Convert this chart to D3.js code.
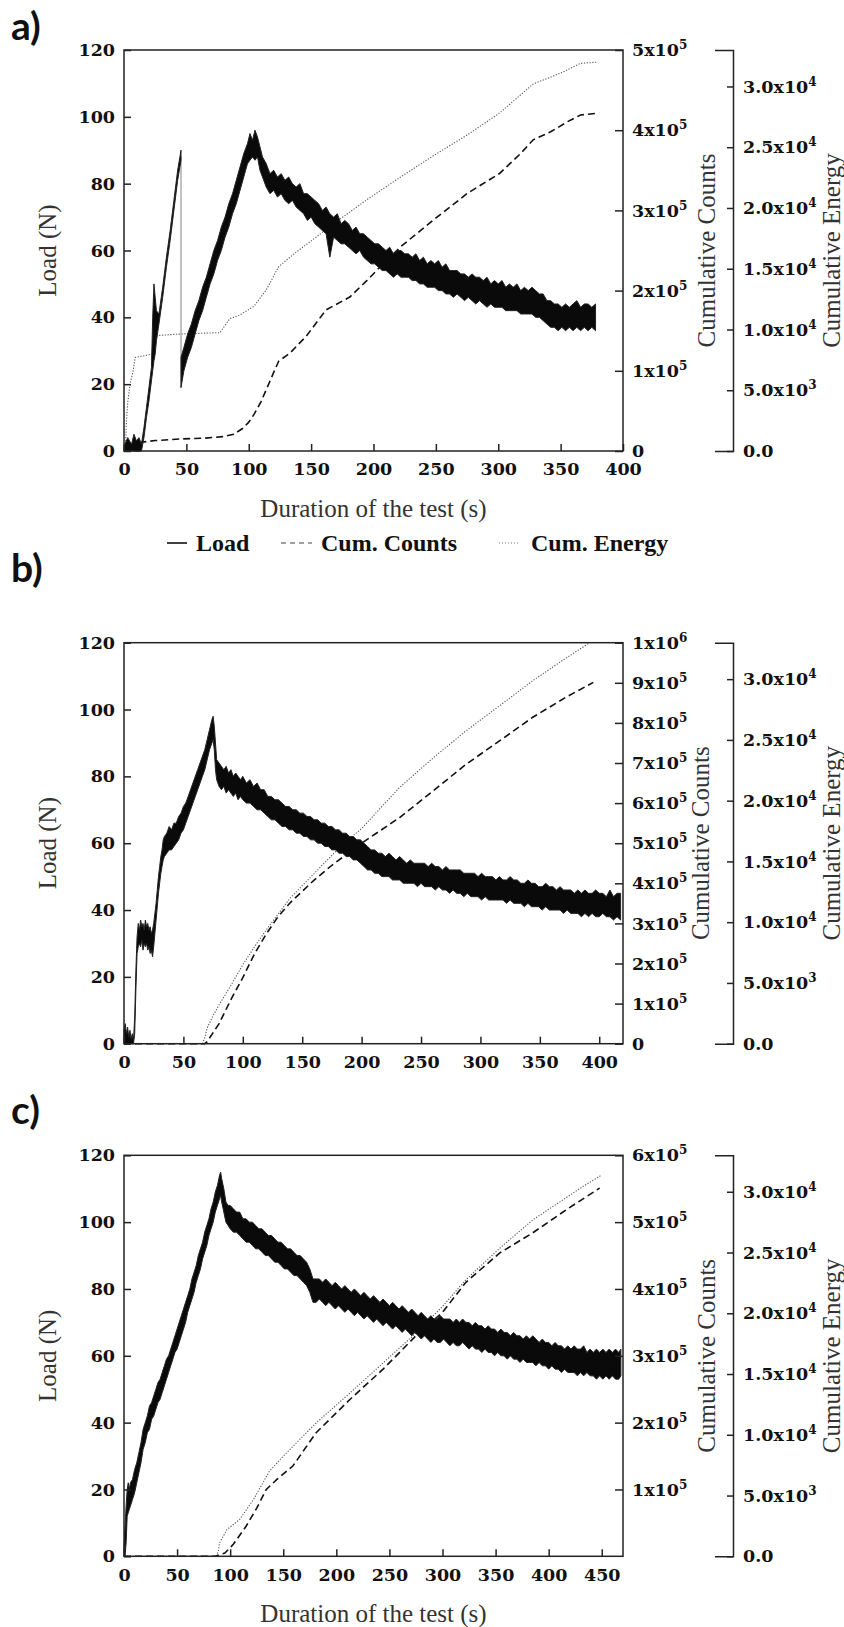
<!DOCTYPE html>
<html>
<head>
<meta charset="utf-8">
<script src="https://cdn.jsdelivr.net/npm/d3@7"></script>
<style>
  body { margin: 0; background: #fff; }
  .tick text { font-family: "DejaVu Serif", serif; font-weight: bold; font-size: 17.5px; fill: #111; }
  .tick line { stroke: #222; stroke-width: 1.5; }
  .axis-title { font-family: "Liberation Serif", serif; font-size: 25px; fill: #333; }
  .panel-tag { font-family: Lato, sans-serif; font-weight: bold; font-size: 39px; fill: #111; }
  .legend text { font-family: "Liberation Serif", serif; font-weight: bold; font-size: 24px; fill: #111; }
</style>
</head>
<body>
<div id="chart"></div>
<script>
// tick values
const loadTicks = [0, 20, 40, 60, 80, 100, 120];
const energyTicks = [0, 5000, 10000, 15000, 20000, 25000, 30000];
const xTicksA = [0, 50, 100, 150, 200, 250, 300, 350, 400];
const xTicksB = [0, 50, 100, 150, 200, 250, 300, 350, 400];
const xTicksC = [0, 50, 100, 150, 200, 250, 300, 350, 400, 450];
const countTicksA = [0, 1e5, 2e5, 3e5, 4e5, 5e5];
const countTicksB = [0, 1e5, 2e5, 3e5, 4e5, 5e5, 6e5, 7e5, 8e5, 9e5, 1e6];
const countTicksC = [1e5, 2e5, 3e5, 4e5, 5e5, 6e5];
const legendNames = ["Load", "Cum. Counts", "Cum. Energy"];

// load records: [time (s), lower edge (N), upper edge (N)] of the noisy trace
const loadA1 = [[0,0,1.5],[3,0,4],[6,0,2],[8,0,5],[10,0,3],[12,0,4],[14,0,2],[16,4,7],[18,10,13],[20,15,19],[22,21,25],[23,24,40],[24,27,50],[25,29,46],[26,33,42],[28,38,41],[31,46,49],[34,55,58],[37,63,66],[40,72,75],[43,81,84],[45.7,87,90]];
const loadA2 = [[45.7,19,28],[48,24,31],[51,28,35],[54,31,38],[57,35,42],[60,39,45],[63,42,49],[66,46,52],[69,50,56],[72,53,60],[75,57,63],[78,60,67],[81,64,70],[84,67,74],[87,71,77],[90,74,81],[93,78,85],[96,82,89],[99,86,92],[101,87,95],[103,88,93],[105,87,96],[107,88,94],[109,84,91],[111,82,88],[114,79,86],[117,77,83],[120,78,84],[123,76,82],[126,77,83],[129,75,81],[132,74,82],[135,75,80],[138,73,79],[141,72,80],[144,71,77],[147,69,77],[150,70,76],[153,68,75],[156,67,74],[159,66,72],[162,65,73],[165,58,71],[168,64,70],[171,63,71],[174,62,68],[177,62,69],[180,61,68],[183,60,66],[186,59,67],[189,60,65],[192,58,65],[195,57,64],[198,56,63],[201,56,62],[204,55,62],[207,54,61],[210,54,60],[213,53,61],[216,52,59],[219,53,60],[222,52,60],[225,52,59],[228,52,59],[231,51,58],[234,51,59],[237,50,57],[240,50,58],[243,49,56],[246,49,57],[249,49,56],[252,48,57],[255,48,55],[258,47,56],[261,47,54],[264,46,54],[267,47,54],[270,46,53],[273,45,53],[276,46,52],[279,45,53],[282,44,52],[285,45,52],[288,44,51],[291,43,52],[294,44,50],[297,43,51],[300,43,50],[303,43,51],[306,42,49],[309,42,50],[312,42,49],[315,42,50],[318,41,48],[321,41,49],[324,41,48],[327,41,49],[330,40,48],[333,40,47],[336,39,47],[339,38,45],[342,37,45],[345,37,44],[348,36,44],[351,37,43],[354,36,44],[357,37,43],[360,36,44],[363,37,45],[366,36,43],[369,37,44],[372,36,44],[375,37,43],[378,36,44]];
const dropA = [[45.7, 88], [45.7, 19]];
const countsA = [[0,0],[12,0],[14,11000],[25,13000],[45,15000],[65,16000],[80,18000],[88,21000],[95,28000],[100,36000],[104,45000],[110,62000],[115,80000],[120,98000],[124,112000],[133,122000],[146,143000],[162,176000],[181,192000],[195,213000],[208,234000],[222,255000],[248,288000],[275,321000],[301,346000],[318,371000],[328,388000],[342,398000],[356,411000],[366,419000],[379,421000]];
const energyA = [[0,0],[1,0],[2,2500],[3,4000],[5,5600],[7,6400],[9,7700],[17,7850],[23,8000],[25,9300],[27,9500],[45,9630],[77,9740],[80,10200],[85,10900],[93,11200],[104,11900],[114,13250],[124,15170],[136,16200],[154,17600],[168,18700],[195,20700],[221,22500],[248,24300],[275,26000],[301,27800],[320,29500],[328,30200],[350,31100],[366,31900],[379,32000]];

const loadB = [[0,0,4],[1,0,6],[2,0,3],[3,0,5],[4,0,2],[5,0,4],[6,0,1.5],[7,0,3],[8,0,1],[9,3,8],[10,16,22],[11,27,32],[12,29,36],[13,30,34],[14,29,37],[15,31,35],[16,28,36],[17,30,34],[18,29,37],[19,30,35],[20,28,36],[21,29,34],[22,27,35],[23,28,33],[24,26,34],[25,29,36],[26,33,39],[27,37,42],[28,41,46],[29,45,50],[30,48,53],[31,51,56],[32,53,58],[33,55,61],[34,56,62],[36,57,63],[38,58,65],[40,58,64],[42,59,66],[44,60,66],[46,61,68],[48,63,69],[50,64,71],[52,66,72],[54,68,74],[56,70,76],[58,72,78],[60,74,80],[62,76,82],[64,78,84],[66,80,86],[68,82,88],[70,85,91],[72,88,94],[74,90,97],[75,91,98],[76,88,95],[77,82,90],[78,79,85],[80,77,84],[82,76,83],[84,77,82],[86,75,83],[88,76,81],[90,75,82],[92,74,80],[94,75,81],[96,73,80],[98,74,79],[100,73,80],[103,72,78],[106,72,79],[109,71,77],[112,70,78],[115,70,76],[118,69,76],[121,68,74],[124,67,74],[127,67,73],[130,66,73],[133,65,72],[136,65,71],[139,64,71],[142,64,70],[145,63,70],[148,63,69],[151,62,69],[154,62,68],[157,61,68],[160,61,67],[163,60,67],[166,60,66],[169,59,66],[172,59,65],[175,58,65],[178,58,64],[181,57,64],[184,57,63],[187,56,63],[190,56,62],[193,55,62],[196,55,61],[199,54,61],[202,53,60],[205,52,59],[208,52,58],[211,51,58],[214,51,57],[217,50,57],[220,50,56],[223,50,57],[226,49,56],[229,49,55],[232,49,56],[235,48,55],[238,48,54],[241,48,55],[244,48,54],[247,47,54],[250,48,54],[253,47,54],[256,47,53],[259,47,54],[262,46,53],[265,47,53],[268,46,52],[271,46,53],[274,45,52],[277,46,52],[280,45,52],[283,45,52],[286,44,51],[289,45,51],[292,44,51],[295,44,51],[298,44,50],[301,43,51],[304,44,50],[307,43,50],[310,43,50],[313,43,49],[316,43,50],[319,43,49],[322,42,49],[325,43,50],[328,42,49],[331,42,49],[334,42,48],[337,41,48],[340,42,49],[343,41,48],[346,41,48],[349,41,47],[352,40,47],[355,41,48],[358,40,47],[361,40,47],[364,40,46],[367,40,47],[370,39,46],[373,40,46],[376,39,46],[379,39,45],[382,39,46],[385,38,45],[388,39,46],[391,38,45],[394,39,45],[397,38,46],[400,38,45],[403,39,45],[406,38,44],[409,38,46],[412,37,44],[415,38,45],[418,37,45]];
const countsB = [[0,0],[68,0],[70,5000],[80,50000],[90,110000],[100,165000],[110,225000],[120,275000],[130,318000],[140,352000],[150,380000],[160,408000],[175,445000],[190,478000],[200,500000],[215,530000],[232,564000],[260,630000],[288,697000],[316,755000],[344,814000],[372,864000],[395,901000]];
const energyB = [[0,0],[66,0],[68,500],[70,1300],[75,2300],[80,3200],[90,4800],[100,6500],[110,8000],[120,9400],[130,10700],[140,12000],[150,13000],[160,14000],[170,15000],[180,16000],[190,16900],[200,17700],[215,19300],[232,21090],[260,23500],[288,25760],[316,27800],[344,29870],[370,31600],[392,33000]];

const loadC = [[0,0,2],[1,0,9],[2,4,15],[3,12,20],[4,13,22],[5,14,20],[6,15,22],[8,17,23],[10,19,26],[12,22,28],[14,25,31],[16,28,34],[18,32,38],[20,34,40],[22,37,42],[24,38,45],[26,41,46],[28,42,48],[30,44,50],[32,46,52],[34,47,53],[36,49,55],[38,51,57],[40,53,59],[42,55,60],[44,57,62],[46,59,64],[48,61,66],[50,62,68],[52,64,70],[54,66,72],[56,68,74],[58,70,76],[60,73,78],[62,75,80],[64,77,83],[66,79,85],[68,82,87],[70,84,90],[72,86,92],[74,89,94],[76,91,97],[78,93,99],[80,96,101],[82,98,104],[84,100,106],[86,103,109],[88,105,111],[90,107,114],[91,108,115],[92,106,113],[94,103,110],[96,100,106],[98,99,105],[100,98,105],[103,97,104],[106,97,103],[109,96,103],[112,95,101],[115,94,101],[118,94,100],[121,93,100],[124,92,99],[127,92,98],[130,91,98],[133,90,97],[136,90,96],[139,89,96],[142,88,95],[145,88,94],[148,87,94],[151,86,93],[154,86,92],[157,85,92],[160,84,91],[163,84,90],[166,83,90],[169,82,89],[172,81,88],[175,79,86],[178,76,83],[181,76,83],[184,77,83],[187,76,82],[190,75,83],[193,76,82],[196,75,81],[199,74,82],[202,75,81],[205,74,80],[208,73,81],[211,74,80],[214,73,79],[217,72,80],[220,73,79],[223,72,78],[226,71,79],[229,72,78],[232,71,77],[235,70,78],[238,71,77],[241,70,76],[244,69,77],[247,70,76],[250,69,75],[253,68,76],[256,69,75],[259,68,74],[262,67,75],[265,68,74],[268,67,73],[271,66,74],[274,67,73],[277,66,72],[280,65,73],[283,66,72],[286,65,71],[289,64,72],[292,65,71],[295,64,71],[298,64,72],[301,65,71],[304,64,71],[307,63,71],[310,64,70],[313,63,71],[316,63,70],[319,64,71],[322,63,70],[325,62,70],[328,63,69],[331,62,70],[334,62,69],[337,61,69],[340,62,68],[343,61,69],[346,61,68],[349,60,68],[352,61,67],[355,60,68],[358,60,67],[361,59,67],[364,60,66],[367,59,67],[370,59,66],[373,58,66],[376,59,65],[379,58,66],[382,58,65],[385,58,66],[388,57,65],[391,58,64],[394,57,65],[397,57,64],[400,56,64],[403,57,63],[406,56,64],[409,56,63],[412,55,63],[415,56,62],[418,55,63],[421,55,62],[424,55,63],[427,54,62],[430,55,62],[433,54,63],[436,55,61],[439,54,62],[442,54,61],[445,53,62],[448,54,61],[451,53,62],[454,54,61],[457,53,62],[460,54,61],[463,53,62],[466,53,61],[468,54,62]];
const countsC = [[0,0],[86,0],[95,5000],[103,18000],[115,45000],[125,72000],[134,100000],[144,115000],[159,135000],[181,185000],[213,235000],[244,280000],[275,330000],[300,365000],[322,410000],[354,454000],[385,484000],[417,519000],[448,551000]];
const energyC = [[0,0],[87,0],[89,500],[90,1100],[97,2200],[109,3040],[122,4680],[137,7010],[150,8240],[181,10980],[213,13450],[244,15910],[275,18380],[300,20560],[322,22760],[354,25360],[385,27680],[432,30420],[450,31380]];

// layout
const plotL = 124, plotR = 623, plotH = 401, energyX = 733, energyMax = 33000;

const svg = d3.select("#chart")
  .append("svg")
    .attr("width", 844)
    .attr("height", 1627);

const panels = [
  {tag: "a)", tagY: 40, top: 50, xMax: 400, xTicks: xTicksA, cMax: 5e5, cTicks: countTicksA,
   loads: [loadA1, loadA2], drop: dropA, counts: countsA, energy: energyA, xTitle: true, cTitleX: 715},
  {tag: "b)", tagY: 582, top: 642.7, xMax: 420, xTicks: xTicksB, cMax: 1e6, cTicks: countTicksB,
   loads: [loadB], drop: null, counts: countsB, energy: energyB, xTitle: false, cTitleX: 709},
  {tag: "c)", tagY: 1124, top: 1155.3, xMax: 470, xTicks: xTicksC, cMax: 6e5, cTicks: countTicksC,
   loads: [loadC], drop: null, counts: countsC, energy: energyC, xTitle: true, cTitleX: 715}
];

// turn a tick value into "Nx10" + superscript exponent
function sciText(sel, decimals, zeroText) {
  sel.each(function(d) {
    const t = d3.select(this).text(null);
    if (d === 0) { t.text(zeroText); return; }
    const e = Math.floor(Math.log10(d) + 1e-9);
    const m = d / Math.pow(10, e);
    t.append("tspan").text((decimals ? m.toFixed(decimals) : m) + "x10");
    t.append("tspan").attr("dy", -7).style("font-size", "12px").text(e);
  });
}

panels.forEach(p => {
  const g = svg.append("g");
  const bottom = p.top + plotH;
  const midY = p.top + plotH / 2;

  const x = d3.scaleLinear().domain([0, p.xMax]).range([plotL, plotR]);
  const yLoad = d3.scaleLinear().domain([0, 120]).range([bottom, p.top]);
  const yCount = d3.scaleLinear().domain([0, p.cMax]).range([bottom, p.top]);
  const yEnergy = d3.scaleLinear().domain([0, energyMax]).range([bottom, p.top]);

  // cumulative energy (dotted)
  g.append("path")
    .datum(p.energy)
    .attr("fill", "none")
    .attr("stroke", "#555")
    .attr("stroke-width", 1.1)
    .attr("stroke-dasharray", "1.2,1.6")
    .attr("d", d3.line().x(d => x(d[0])).y(d => yEnergy(d[1])));

  // cumulative counts (dashed)
  g.append("path")
    .datum(p.counts)
    .attr("fill", "none")
    .attr("stroke", "#111")
    .attr("stroke-width", 1.6)
    .attr("stroke-dasharray", "7,4")
    .attr("d", d3.line().x(d => x(d[0])).y(d => yCount(d[1])));

  // load trace
  if (p.drop) {
    g.append("path")
      .datum(p.drop)
      .attr("fill", "none")
      .attr("stroke", "#999")
      .attr("stroke-width", 1.2)
      .attr("d", d3.line().x(d => x(d[0])).y(d => yLoad(d[1])));
  }
  p.loads.forEach(seg => {
    g.append("path")
      .datum(seg)
      .attr("fill", "#0a0a0a")
      .attr("stroke", "#222")
      .attr("stroke-width", 1)
      .attr("stroke-linejoin", "round")
      .attr("d", d3.area().x(d => x(d[0])).y0(d => yLoad(d[1])).y1(d => yLoad(d[2])));
  });

  // frame
  g.append("rect")
    .attr("x", plotL).attr("y", p.top)
    .attr("width", plotR - plotL).attr("height", plotH)
    .attr("fill", "none")
    .attr("stroke", "#222")
    .attr("stroke-width", 1.5);

  // left axis
  g.append("g")
    .attr("transform", `translate(${plotL},0)`)
    .call(d3.axisLeft(yLoad).tickValues(loadTicks).tickSizeInner(-7).tickSizeOuter(0).tickPadding(9))
    .call(a => a.select(".domain").remove());

  // bottom axis
  g.append("g")
    .attr("transform", `translate(0,${bottom})`)
    .call(d3.axisBottom(x).tickValues(p.xTicks).tickSizeInner(-7).tickSizeOuter(0).tickPadding(12))
    .call(a => a.select(".domain").remove());

  // counts axis
  g.append("g")
    .attr("transform", `translate(${plotR},0)`)
    .call(d3.axisRight(yCount).tickValues(p.cTicks).tickSizeInner(-8).tickSizeOuter(0).tickPadding(9))
    .call(a => a.select(".domain").remove())
    .call(a => sciText(a.selectAll(".tick text"), 0, "0"));

  // energy axis (offset)
  g.append("g")
    .attr("transform", `translate(${energyX},0)`)
    .call(d3.axisRight(yEnergy).tickValues(energyTicks).tickSizeInner(-6).tickSizeOuter(-18).tickPadding(10))
    .call(a => a.select(".domain").attr("stroke", "#222").attr("stroke-width", 1.5))
    .call(a => sciText(a.selectAll(".tick text"), 1, "0.0"));

  // titles
  g.append("text")
    .attr("class", "axis-title")
    .attr("text-anchor", "middle")
    .attr("transform", `translate(56,${midY}) rotate(-90)`)
    .text("Load (N)");
  g.append("text")
    .attr("class", "axis-title")
    .attr("text-anchor", "middle")
    .attr("transform", `translate(${p.cTitleX},${midY}) rotate(-90)`)
    .text("Cumulative Counts");
  g.append("text")
    .attr("class", "axis-title")
    .attr("text-anchor", "middle")
    .attr("transform", `translate(840,${midY}) rotate(-90)`)
    .text("Cumulative Energy");
  if (p.xTitle) {
    g.append("text")
      .attr("class", "axis-title")
      .attr("text-anchor", "middle")
      .attr("x", (plotL + plotR) / 2)
      .attr("y", bottom + 66)
      .text("Duration of the test (s)");
  }

  // panel letter
  svg.append("text")
    .attr("class", "panel-tag")
    .attr("x", 11)
    .attr("y", p.tagY)
    .text(p.tag);
});

// legend under panel a
const legend = svg.append("g").attr("class", "legend");
const legY = 551;
const legItems = [
  {name: legendNames[0], x1: 167, x2: 187, tx: 196, dash: null, color: "#111", w: 1.6},
  {name: legendNames[1], x1: 281, x2: 312, tx: 321, dash: "5,4", color: "#444", w: 1.1},
  {name: legendNames[2], x1: 499, x2: 518, tx: 531, dash: "1,2", color: "#777", w: 1}
];
legItems.forEach(it => {
  legend.append("line")
    .attr("x1", it.x1).attr("x2", it.x2)
    .attr("y1", legY - 8).attr("y2", legY - 8)
    .attr("stroke", it.color)
    .attr("stroke-width", it.w)
    .attr("stroke-dasharray", it.dash);
  legend.append("text")
    .attr("x", it.tx)
    .attr("y", legY)
    .text(it.name);
});
</script>
</body>
</html>
